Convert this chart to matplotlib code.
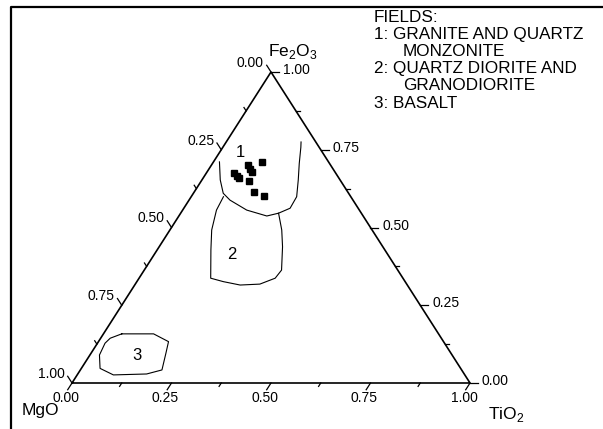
import numpy as np
import matplotlib
matplotlib.use("Agg")
import matplotlib.pyplot as plt
from matplotlib.transforms import offset_copy

plt.rcParams['font.family'] = ['Liberation Sans', 'DejaVu Sans']
plt.rcParams['mathtext.fontset'] = 'custom'
plt.rcParams['mathtext.rm'] = 'Liberation Sans'

# ---- data (ternary fractions) ----
sample_fe2o3 = [0.701, 0.678, 0.710, 0.674, 0.658, 0.650, 0.613, 0.600, 0.688, 0.666]
sample_tio2 = [0.091, 0.113, 0.122, 0.071, 0.091, 0.120, 0.151, 0.183, 0.102, 0.082]

field1_fe2o3 = [0.711, 0.653, 0.610, 0.588, 0.556, 0.537, 0.546, 0.562, 0.599, 0.653, 0.706, 0.758, 0.775]
field1_tio2 = [0.015, 0.046, 0.075, 0.103, 0.161, 0.221, 0.246, 0.267, 0.265, 0.242, 0.218, 0.196, 0.188]

field2_fe2o3 = [0.599, 0.556, 0.492, 0.428, 0.337, 0.326, 0.315, 0.318, 0.337, 0.363, 0.438, 0.492, 0.546]
field2_tio2 = [0.081, 0.085, 0.105, 0.135, 0.180, 0.217, 0.265, 0.313, 0.342, 0.345, 0.310, 0.281, 0.246]

field3_fe2o3 = [0.158, 0.158, 0.133, 0.096, 0.042, 0.029, 0.026, 0.047, 0.090, 0.128, 0.144, 0.158]
field3_tio2 = [0.046, 0.126, 0.176, 0.188, 0.205, 0.173, 0.091, 0.047, 0.024, 0.019, 0.024, 0.046]

field_labels = ["1", "2", "3"]
field_label_fe2o3 = [0.740, 0.412, 0.090]
field_label_tio2 = [0.052, 0.196, 0.118]

tick_values = [0.0, 0.125, 0.25, 0.375, 0.5, 0.625, 0.75, 0.875, 1.0]
major_labels = {0.0: "0.00", 0.25: "0.25", 0.5: "0.50", 0.75: "0.75", 1.0: "1.00"}

legend_lines = ["FIELDS:", "1: GRANITE AND QUARTZ", "MONZONITE",
                "2: QUARTZ DIORITE AND", "GRANODIORITE", "3: BASALT"]
legend_indent = [False, False, True, False, True, False]


def tern(fe, ti):
    fe = np.asarray(fe, dtype=float)
    ti = np.asarray(ti, dtype=float)
    return ti + fe / 2.0, fe


W, H = 603, 429
fig = plt.figure(figsize=(W / 100, H / 100), dpi=100)
ax = fig.add_axes([0, 0, 1, 1])
ax.set_xlim(-72 / 398, (W - 72) / 398)
ax.set_ylim(-46 / 311, (H - 46) / 311)
ax.axis('off')


def off(dx, dy):
    return offset_copy(ax.transData, fig=fig, x=dx, y=dy, units='dots')


def vec(dx, dy):
    p0 = ax.transData.transform((0, 0))
    return ax.transData.inverted().transform(p0 + np.array([dx, dy]))


# frame
ax.plot([11 / W, 11 / W, 1.0], [0.0, 1 - 7 / H, 1 - 7 / H], color='black', lw=1.6,
        transform=ax.transAxes, clip_on=False, solid_capstyle='butt')

# triangle
cx, cy = tern([0, 0, 1, 0], [0, 1, 0, 0])
ax.plot(cx, cy, color='black', lw=1.2, solid_joinstyle='miter')

# ticks
dl = np.array([-0.539, 0.842])   # left axis direction (up-left)
db = np.array([-0.539, -0.842])  # bottom axis (down-left)
dr = np.array([1.0, 0.0])        # right axis (right)
for v in tick_values:
    major = v in major_labels
    L = 8 if major else 4
    # bottom: TiO2
    bx, by = tern(0.0, v)
    t = vec(*(db * L))
    ax.plot([bx, bx + t[0]], [by, by + t[1]], color='black', lw=0.9)
    # right: Fe2O3
    rx, ry = tern(v, 1 - v)
    t = vec(*(dr * L))
    ax.plot([rx, rx + t[0]], [ry, ry + t[1]], color='black', lw=0.9)
    # left: MgO
    lx, ly = tern(1 - v, 0.0)
    t = vec(*(dl * L))
    ax.plot([lx, lx + t[0]], [ly, ly + t[1]], color='black', lw=0.9)
    if major:
        s = major_labels[v]
        ax.text(bx, by, s, transform=off(-6, -15), ha='center', va='center', fontsize=10)
        ax.text(rx, ry, s, transform=off(12, 2), ha='left', va='center', fontsize=10)
        ax.text(lx, ly, s, transform=off(-7, 9), ha='right', va='center', fontsize=10)

# corner titles
ax.text(*tern(1, 0), r"Fe$_\mathregular{2}$O$_\mathregular{3}$", transform=off(-3, 16),
        ha='left', va='baseline', fontsize=12.5)
ax.text(*tern(0, 0), "MgO", transform=off(-50, -27), ha='left', va='center', fontsize=12.5)
ax.text(*tern(0, 1), r"TiO$_\mathregular{2}$", transform=off(18, -36), ha='left',
        va='baseline', fontsize=12.5)

# fields
for fe, ti in [(field1_fe2o3, field1_tio2), (field2_fe2o3, field2_tio2),
               (field3_fe2o3, field3_tio2)]:
    x, y = tern(fe, ti)
    ax.plot(x, y, color='black', lw=0.8)

for lab, fe, ti in zip(field_labels, field_label_fe2o3, field_label_tio2):
    x, y = tern(fe, ti)
    ax.text(x, y, lab, ha='center', va='center', fontsize=12)

# samples
sx, sy = tern(sample_fe2o3, sample_tio2)
ax.plot(sx, sy, 's', color='black', markersize=4.5, linestyle='none')

# legend text
y0 = 1 - 18 / H
for i, (line, ind) in enumerate(zip(legend_lines, legend_indent)):
    ax.text((403 if ind else 374) / W, y0 - i * 17 / H, line, transform=ax.transAxes,
            ha='left', va='center', fontsize=12.3)

fig.savefig("out.png", dpi=100, facecolor='white')
